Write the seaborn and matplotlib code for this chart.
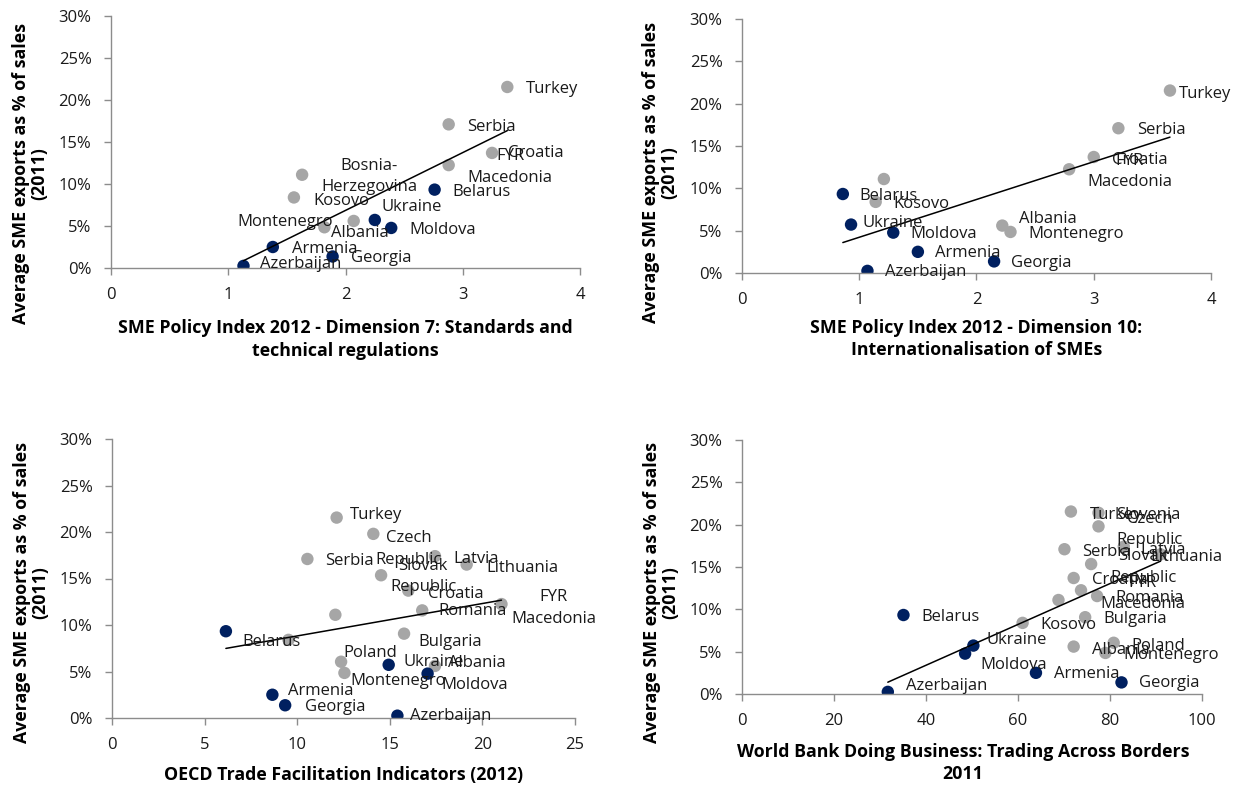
import matplotlib
matplotlib.use("Agg")
import matplotlib.pyplot as plt
import matplotlib.ticker as mtick
import seaborn as sns
import numpy as np
import pandas as pd

nan = np.nan

countries = ["Turkey", "Slovenia", "Czech Republic", "Latvia", "Serbia", "Lithuania",
             "Slovak Republic", "Croatia", "FYR Macedonia", "Romania", "Bosnia-Herzegovina",
             "Belarus", "Bulgaria", "Kosovo", "Poland", "Ukraine", "Albania", "Montenegro",
             "Moldova", "Armenia", "Georgia", "Azerbaijan"]
label_text = ["Turkey", "Slovenia", "Czech\nRepublic", "Latvia", "Serbia", "Lithuania",
              "Slovak\nRepublic", "Croatia", "FYR\nMacedonia", "Romania", "Bosnia-\nHerzegovina",
              "Belarus", "Bulgaria", "Kosovo", "Poland", "Ukraine", "Albania", "Montenegro",
              "Moldova", "Armenia", "Georgia", "Azerbaijan"]
eastern_partners = ["Belarus", "Ukraine", "Moldova", "Armenia", "Georgia", "Azerbaijan"]

# average SME exports as % of sales (2011)
sme_exports = [21.55, 21.4, 19.8, 17.4, 17.1, 16.5, 15.35, 13.7, 12.25, 11.57, 11.1,
               9.33, 9.07, 8.4, 6.05, 5.72, 5.6, 4.85, 4.77, 2.5, 1.37, 0.25]

dim7_standards = [3.38, nan, nan, nan, 2.88, nan, nan, 3.25, 2.88, nan, 1.63,
                  2.76, nan, 1.56, nan, 2.25, 2.07, 1.82, 2.39, 1.38, 1.89, 1.13]
dim10_internat = [3.65, nan, nan, nan, 3.21, nan, nan, 3.00, 2.79, nan, 1.21,
                  0.86, nan, 1.14, nan, 0.93, 2.22, 2.29, 1.29, 1.50, 2.15, 1.07]
oecd_tfi = [12.13, nan, 14.11, 17.44, 10.55, 19.15, 14.53, 16.0, 21.03, 16.75, 12.06,
            6.15, 15.77, 9.53, 12.37, 14.94, 17.44, 12.55, 17.04, 8.66, 9.35, 15.41]
wb_trading = [71.5, 77.5, 77.5, 83.0, 70.1, 91.0, 75.9, 72.1, 73.7, 77.2, 68.8,
              35.1, 74.6, 61.0, 80.8, 50.3, 72.1, 79.0, 48.5, 63.9, 82.5, 31.7]

# countries left out of the linear trend of each panel
trend_excluded = [[], [], [], ["Belarus"]]

xlabels = ["SME Policy Index 2012 - Dimension 7: Standards and\ntechnical regulations",
           "SME Policy Index 2012 - Dimension 10:\nInternationalisation of SMEs",
           "OECD Trade Facilitation Indicators (2012)",
           "World Bank Doing Business: Trading Across Borders\n2011"]
ylabel = "Average SME exports as % of sales\n(2011)"

# label placement (pixel offset of label left edge / centre from the marker)
offsets = [
    {"Turkey": (19, 2), "Serbia": (18, 3), "Croatia": (16, 0), "FYR Macedonia": (19, 2),
     "Bosnia-Herzegovina": (19, 2), "Kosovo": (19, 4), "Montenegro": (-87, -5),
     "Albania": (-23, 12), "Belarus": (18, 2), "Ukraine": (7, -13), "Moldova": (18, 2),
     "Armenia": (19, 2), "Georgia": (18, 2), "Azerbaijan": (17, -2)},
    {"Turkey": (9, 3), "Serbia": (19, 2), "Croatia": (18, 3), "FYR Macedonia": (18, 2),
     "Kosovo": (18, 2), "Belarus": (17, 2), "Ukraine": (11, -2), "Moldova": (17, 1),
     "Albania": (17, -7), "Montenegro": (18, 2), "Armenia": (17, 1), "Georgia": (17, 2),
     "Azerbaijan": (18, 1)},
    {"Turkey": (13, -3), "Czech Republic": (2, 15), "Latvia": (18, 3), "Lithuania": (20, 3),
     "Serbia": (18, 2), "Slovak Republic": (9, 1), "Croatia": (20, 3), "FYR Macedonia": (10, 4),
     "Romania": (16, 1), "Bulgaria": (14, 8), "Belarus": (16, 11), "Poland": (2, -9),
     "Montenegro": (6, 8), "Ukraine": (15, -3), "Albania": (13, -3), "Moldova": (14, 11),
     "Armenia": (16, -4), "Georgia": (20, 2), "Azerbaijan": (13, 0)},
    {"Turkey": (19, 3), "Slovenia": (18, 2), "Czech Republic": (18, 3), "Serbia": (18, 3),
     "Slovak Republic": (19, 3), "Latvia": (17, 3), "Lithuania": (-10, 3), "Croatia": (18, 2),
     "FYR Macedonia": (19, 3), "Romania": (18, 2), "Bulgaria": (18, 2), "Kosovo": (18, 2),
     "Belarus": (18, 2), "Ukraine": (13, -6), "Moldova": (15, 11), "Albania": (18, 3),
     "Poland": (18, 3), "Montenegro": (18, 2), "Armenia": (18, 1), "Georgia": (18, 1),
     "Azerbaijan": (18, -6)},
]

sns.set_theme(style="white")
plt.rcParams["font.family"] = ["Open Sans", "DejaVu Sans"]
text_col = "#1a1a1a"
axis_col = "#8c8c8c"

fig = plt.figure(figsize=(12.41, 7.92), dpi=100)
W, H = 1241, 792
# axes boxes in pixels: left, top, right, bottom
boxes = [(111, 16, 580, 268), (742, 19, 1211, 273), (112, 439, 575, 718), (742, 440, 1202, 694)]
xlims = [(0, 4, 1), (0, 4, 1), (0, 25, 5), (0, 100, 20)]
ylab_pos = [(-0.173, 0.375), (-0.174, 0.395), (-0.175, 0.45), (-0.176, 0.40)]
xlab_pos = [(0.5, -0.284), (0.5, -0.261), (0.5, -0.203), (0.48, -0.272)]

df = pd.DataFrame({"country": countries, "label": label_text, "sme": np.array(sme_exports) / 100})
df["group"] = np.where(df["country"].isin(eastern_partners), "EaP", "Other")
xcols = [dim7_standards, dim10_internat, oecd_tfi, wb_trading]

for i, xs in enumerate(xcols):
    l, t, r, b = boxes[i]
    ax = fig.add_axes([l / W, 1 - b / H, (r - l) / W, (b - t) / H])
    d = df.assign(x=xs).dropna(subset=["x"])

    sns.scatterplot(data=d, x="x", y="sme", hue="group",
                    palette={"Other": "#a6a6a6", "EaP": "#002060"},
                    s=80, edgecolor="none", legend=False, ax=ax, zorder=2)
    fit = d[~d["country"].isin(trend_excluded[i])]
    sns.regplot(data=fit, x="x", y="sme", scatter=False, ci=None, truncate=True,
                line_kws={"color": "black", "lw": 1.1, "zorder": 3}, ax=ax)

    for _, row in d.iterrows():
        if row["country"] not in offsets[i]:
            continue
        dx, dy = offsets[i][row["country"]]
        ax.annotate(row["label"], (row["x"], row["sme"]), xytext=(dx, -dy),
                    textcoords="offset pixels", ha="left", va="center",
                    multialignment="center", linespacing=1.45,
                    fontsize=12, color=text_col, zorder=4, annotation_clip=False)

    x0, x1, step = xlims[i]
    ax.set_xlim(x0, x1)
    ax.set_xticks(np.arange(x0, x1 + step / 2, step))
    ax.set_ylim(0, 0.30)
    ax.set_yticks(np.arange(0, 0.301, 0.05))
    ax.yaxis.set_major_formatter(mtick.PercentFormatter(1.0, decimals=0))
    sns.despine(ax=ax)
    for sp in ["left", "bottom"]:
        ax.spines[sp].set_color(axis_col)
        ax.spines[sp].set_linewidth(1.0)
    ax.tick_params(axis="both", which="major", direction="out", length=5, width=1,
                   color=axis_col, labelsize=12, labelcolor=text_col, pad=9,
                   left=True, bottom=True)

    ax.set_xlabel(xlabels[i], fontsize=12.8, fontweight="bold", color="black",
                  va="center", linespacing=1.3)
    ax.xaxis.set_label_coords(*xlab_pos[i])
    ax.set_ylabel(ylabel, fontsize=12.8, fontweight="bold", color="black",
                  va="center", linespacing=1.05)
    ax.yaxis.set_label_coords(*ylab_pos[i])
    ax.grid(False)

fig.savefig("out.png", dpi=100)
